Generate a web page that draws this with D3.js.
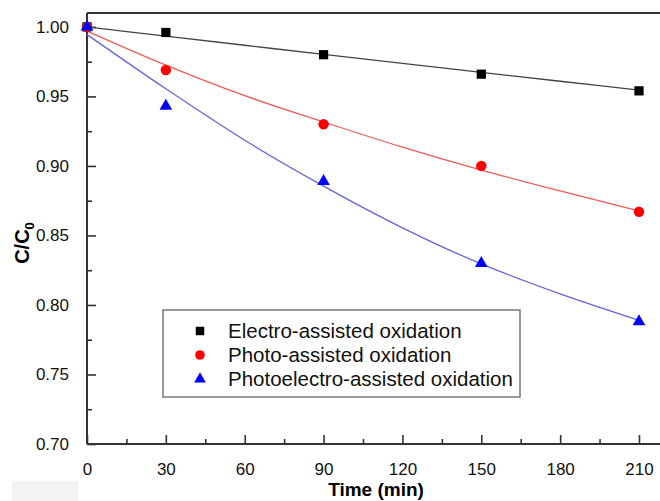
<!DOCTYPE html>
<html>
<head>
<meta charset="utf-8">
<script src="https://cdn.jsdelivr.net/npm/d3@7/dist/d3.min.js"></script>
<style>
  body { margin: 0; background: #fff; }
  svg { display: block; font-family: "Liberation Sans", Arial, sans-serif; }
</style>
</head>
<body>
<svg id="chart" width="660" height="501"></svg>
<script>
// measured points
var times = [0, 30, 90, 150, 210];
var electro = [1.000, 0.996, 0.980, 0.966, 0.954];
var photo = [1.000, 0.969, 0.930, 0.900, 0.867];
var photoelectro = [1.000, 0.943, 0.889, 0.830, 0.788];

// fitted curves
var fitTimes = [0, 30, 60, 90, 120, 150, 180, 210];
var electroFit = [1.000, 0.9934, 0.9868, 0.9802, 0.9737, 0.9673, 0.9609, 0.9545];
var photoFit = [0.997, 0.9725, 0.9505, 0.9316, 0.9135, 0.897, 0.882, 0.8677];
var photoelectroFit = [0.9945, 0.9555, 0.9185, 0.8855, 0.8555, 0.8295, 0.808, 0.789];

var seriesNames = ['Electro-assisted oxidation', 'Photo-assisted oxidation', 'Photoelectro-assisted oxidation'];
var xTicks = [0, 30, 60, 90, 120, 150, 180, 210];
var yTicks = [0.70, 0.75, 0.80, 0.85, 0.90, 0.95, 1.00];

var svg = d3.select('#chart');

var x = d3.scaleLinear().domain([0, 210]).range([87, 639]);
var y = d3.scaleLinear().domain([0.70, 1.01]).range([444, 13]);

var series = [
  { name: seriesNames[0], pts: electro, fit: electroFit, color: '#000', line: '#444', shape: d3.symbolSquare, size: 85 },
  { name: seriesNames[1], pts: photo, fit: photoFit, color: '#ff0000', line: '#ee5a5a', shape: d3.symbolCircle, size: 85 },
  { name: seriesNames[2], pts: photoelectro, fit: photoelectroFit, color: '#0000ff', line: '#6464dc', shape: d3.symbolTriangle, size: 70 }
];

// faint smudge bottom-left as in the scan
svg.append('rect').attr('x', 12).attr('y', 481).attr('width', 66).attr('height', 20).attr('fill', '#f3f3f3');

// frame (top border; right border falls outside the picture)
svg.append('line')
  .attr('x1', x(0)).attr('x2', x(222))
  .attr('y1', y(1.01)).attr('y2', y(1.01))
  .attr('stroke', '#333').attr('stroke-width', 2);

// x axis
var xAxis = d3.axisBottom(x).tickValues(xTicks).tickSizeInner(-9).tickSizeOuter(0).tickPadding(19);
var gx = svg.append('g').attr('transform', 'translate(0,' + y(0.70) + ')').call(xAxis);
gx.select('.domain').attr('d', 'M' + x(0) + ',0H' + x(222));
var xMinor = d3.axisBottom(x).tickValues(d3.range(15, 211, 30)).tickSize(-5).tickFormat('');
var gxm = svg.append('g').attr('transform', 'translate(0,' + y(0.70) + ')').call(xMinor);
gxm.select('.domain').remove();

// y axis
var yAxis = d3.axisLeft(y).tickValues(yTicks).tickSizeInner(-9).tickSizeOuter(0).tickPadding(18).tickFormat(d3.format('.2f'));
var gy = svg.append('g').attr('transform', 'translate(' + x(0) + ',0)').call(yAxis);
gy.select('.domain').attr('d', 'M0,' + y(1.01) + 'V' + y(0.70));
var yMinor = d3.axisLeft(y).tickValues(d3.range(0.725, 1.0, 0.05)).tickSize(-5).tickFormat('');
var gym = svg.append('g').attr('transform', 'translate(' + x(0) + ',0)').call(yMinor);
gym.select('.domain').remove();

svg.selectAll('.domain').attr('stroke', '#333').attr('stroke-width', 2);
svg.selectAll('.tick line').attr('stroke', '#333').attr('stroke-width', 1.6);
svg.selectAll('.tick text').attr('font-size', 17).attr('fill', '#111')
  .attr('font-family', '"Liberation Sans", Arial, sans-serif');

// fit curves
var line = d3.line()
  .x(function(d) { return x(d[0]); })
  .y(function(d) { return y(d[1]); })
  .curve(d3.curveMonotoneX);

series.forEach(function(s) {
  svg.append('path')
    .datum(fitTimes.map(function(t, i) { return [t, s.fit[i]]; }))
    .attr('d', line)
    .attr('fill', 'none')
    .attr('stroke', s.line)
    .attr('stroke-width', 1.3);
});

// points
series.forEach(function(s) {
  svg.append('g').selectAll('path')
    .data(times.map(function(t, i) { return [t, s.pts[i]]; }))
    .enter()
    .append('path')
    .attr('d', d3.symbol().type(s.shape).size(s.size))
    .attr('transform', function(d) { return 'translate(' + x(d[0]) + ',' + y(d[1]) + ')'; })
    .attr('fill', s.color);
});

// legend
var legend = svg.append('g');
legend.append('rect')
  .attr('x', 163).attr('y', 310).attr('width', 357).attr('height', 87)
  .attr('fill', '#fff').attr('stroke', '#777').attr('stroke-width', 1.5);
series.forEach(function(s, i) {
  var ly = 331 + i * 24;
  legend.append('path')
    .attr('d', d3.symbol().type(s.shape).size(s.size * 0.85))
    .attr('transform', 'translate(200,' + ly + ')')
    .attr('fill', s.color);
  legend.append('text')
    .attr('x', 228).attr('y', ly)
    .attr('dy', '0.35em')
    .attr('font-size', 20.5)
    .attr('fill', '#111')
    .text(s.name);
});

// axis titles
svg.append('text')
  .attr('x', 376).attr('y', 496)
  .attr('text-anchor', 'middle')
  .attr('font-size', 19).attr('font-weight', 'bold')
  .text('Time (min)');

var yl = svg.append('text')
  .attr('transform', 'translate(29,243) rotate(-90)')
  .attr('text-anchor', 'middle')
  .attr('font-size', 20).attr('font-weight', 'bold');
yl.append('tspan').text('C/C');
yl.append('tspan').attr('font-size', 13).attr('dy', 5).text('0');
</script>
</body>
</html>
